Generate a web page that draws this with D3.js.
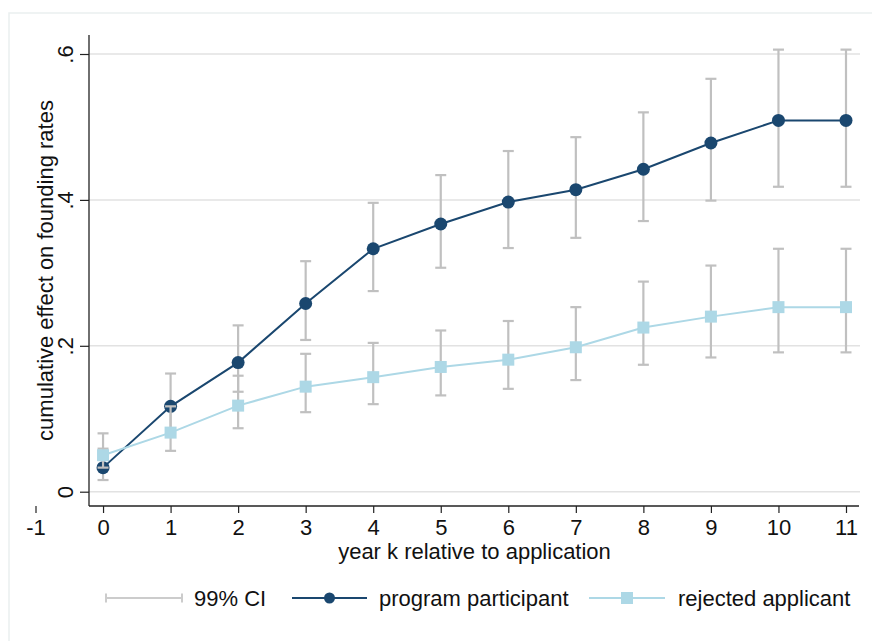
<!DOCTYPE html>
<html>
<head>
<meta charset="utf-8">
<script src="https://cdn.jsdelivr.net/npm/d3@7"></script>
<style>
  html, body { margin: 0; padding: 0; background: #fff; }
  svg { display: block; }
  text { font-family: "Liberation Sans", Arial, Helvetica, sans-serif; fill: #111; }
</style>
</head>
<body>
<svg id="chart" width="872" height="641"></svg>
<script>
// year k relative to application
const years = [0, 1, 2, 3, 4, 5, 6, 7, 8, 9, 10, 11];
const xTicks = [-1, 0, 1, 2, 3, 4, 5, 6, 7, 8, 9, 10, 11];
const yTicks = [0, 0.2, 0.4, 0.6];

// program participant: estimate and 99% CI
const partEst = [0.033, 0.117, 0.177, 0.258, 0.333, 0.367, 0.397, 0.414, 0.442, 0.478, 0.509, 0.509];
const partLo  = [0.016, 0.080, 0.137, 0.208, 0.275, 0.307, 0.334, 0.348, 0.371, 0.399, 0.418, 0.418];
const partHi  = [0.059, 0.162, 0.228, 0.316, 0.396, 0.434, 0.467, 0.486, 0.520, 0.566, 0.606, 0.606];

// rejected applicant: estimate and 99% CI
const rejEst = [0.050, 0.081, 0.118, 0.144, 0.157, 0.171, 0.181, 0.198, 0.225, 0.240, 0.253, 0.253];
const rejLo  = [0.033, 0.056, 0.087, 0.109, 0.120, 0.132, 0.141, 0.153, 0.174, 0.184, 0.191, 0.191];
const rejHi  = [0.080, 0.117, 0.159, 0.189, 0.204, 0.221, 0.234, 0.253, 0.288, 0.310, 0.333, 0.333];

const legendLabels = ["99% CI", "program participant", "rejected applicant"];

const navy = "#1a476f";
const ltblue = "#add8e6";
const ciGray = "#c0c0c0";
const gridGray = "#e2e2e2";

const svg = d3.select("#chart");
const plot = { left: 89, right: 860, top: 35, bottom: 506 };

// faint outer frame
svg.append("rect")
  .attr("x", 9).attr("y", 13).attr("width", 900).attr("height", 700)
  .attr("fill", "none").attr("stroke", "#eaefef").attr("stroke-width", 1.5);

const x = d3.scaleLinear().domain([-1, 11]).range([35.5, 846]);
const y = d3.scaleLinear().domain([0, 0.6]).range([491.7, 54]);

// gridlines
svg.append("g").selectAll("line")
  .data(yTicks).enter().append("line")
  .attr("x1", plot.left).attr("x2", plot.right)
  .attr("y1", d => y(d)).attr("y2", d => y(d))
  .attr("stroke", gridGray).attr("stroke-width", 1.5);

// axes
const yAxis = svg.append("g").attr("transform", `translate(${plot.left},0)`)
  .call(d3.axisLeft(y).tickValues(yTicks).tickSize(9)
    .tickFormat(d => d === 0 ? "0" : d3.format(".1f")(d).replace(/^0/, "")));
yAxis.select(".domain").remove();
yAxis.selectAll(".tick line").attr("stroke", "#222").attr("stroke-width", 1.2);
yAxis.selectAll(".tick text")
  .attr("transform", "rotate(-90)")
  .attr("x", 0).attr("y", -16).attr("dy", 0)
  .attr("text-anchor", "middle")
  .style("font-size", "22px").attr("fill", "#111");

const xAxis = svg.append("g").attr("transform", `translate(0,${plot.bottom})`)
  .call(d3.axisBottom(x).tickValues(xTicks).tickSize(7).tickPadding(6).tickFormat(d => String(d)));
xAxis.select(".domain").remove();
xAxis.selectAll(".tick line").attr("stroke", "#222").attr("stroke-width", 1.2);
xAxis.selectAll(".tick text").style("font-size", "22px").attr("fill", "#111");

// axis lines
svg.append("line")
  .attr("x1", plot.left).attr("x2", plot.left).attr("y1", plot.top).attr("y2", plot.bottom)
  .attr("stroke", "#222").attr("stroke-width", 1.3);
svg.append("line")
  .attr("x1", plot.left).attr("x2", plot.right - 1).attr("y1", plot.bottom).attr("y2", plot.bottom)
  .attr("stroke", "#222").attr("stroke-width", 1.3);

// axis titles
svg.append("text")
  .attr("transform", `translate(53,${(plot.top + plot.bottom) / 2}) rotate(-90)`)
  .attr("text-anchor", "middle").style("font-size", "22px")
  .text("cumulative effect on founding rates");
svg.append("text")
  .attr("x", (plot.left + plot.right) / 2).attr("y", 559)
  .attr("text-anchor", "middle").style("font-size", "22px")
  .text("year k relative to application");

function drawCI(lo, hi) {
  const g = svg.append("g").attr("stroke", ciGray).attr("stroke-width", 2.2).attr("fill", "none");
  years.forEach((k, i) => {
    const cx = x(k);
    g.append("line").attr("x1", cx).attr("x2", cx).attr("y1", y(lo[i])).attr("y2", y(hi[i]));
    g.append("line").attr("x1", cx - 5.5).attr("x2", cx + 5.5).attr("y1", y(lo[i])).attr("y2", y(lo[i]));
    g.append("line").attr("x1", cx - 5.5).attr("x2", cx + 5.5).attr("y1", y(hi[i])).attr("y2", y(hi[i]));
  });
}

const line = d3.line().x(d => x(d[0])).y(d => y(d[1]));

// program participant
drawCI(partLo, partHi);
svg.append("path")
  .datum(years.map((k, i) => [k, partEst[i]]))
  .attr("fill", "none").attr("stroke", navy).attr("stroke-width", 2).attr("d", line);
svg.append("g").selectAll("circle")
  .data(years).enter().append("circle")
  .attr("cx", d => x(d)).attr("cy", (d, i) => y(partEst[i]))
  .attr("r", 6.5).attr("fill", navy);

// rejected applicant
drawCI(rejLo, rejHi);
svg.append("path")
  .datum(years.map((k, i) => [k, rejEst[i]]))
  .attr("fill", "none").attr("stroke", ltblue).attr("stroke-width", 2).attr("d", line);
svg.append("g").selectAll("rect")
  .data(years).enter().append("rect")
  .attr("x", d => x(d) - 6).attr("y", (d, i) => y(rejEst[i]) - 6)
  .attr("width", 12).attr("height", 12).attr("fill", ltblue);

// legend
const ly = 598;
const leg = svg.append("g");
leg.append("line").attr("x1", 106).attr("x2", 182).attr("y1", ly).attr("y2", ly)
  .attr("stroke", "#cccccc").attr("stroke-width", 2);
[106, 182].forEach(cx => leg.append("line").attr("x1", cx).attr("x2", cx)
  .attr("y1", ly - 4.5).attr("y2", ly + 4.5).attr("stroke", "#cccccc").attr("stroke-width", 2));
leg.append("text").attr("x", 194).attr("y", ly + 8).style("font-size", "22px").text(legendLabels[0]);

leg.append("line").attr("x1", 292).attr("x2", 367).attr("y1", ly).attr("y2", ly)
  .attr("stroke", navy).attr("stroke-width", 2);
leg.append("circle").attr("cx", 329.5).attr("cy", ly).attr("r", 5.5).attr("fill", navy);
leg.append("text").attr("x", 379).attr("y", ly + 8).style("font-size", "22px").text(legendLabels[1]);

leg.append("line").attr("x1", 589).attr("x2", 665).attr("y1", ly).attr("y2", ly)
  .attr("stroke", ltblue).attr("stroke-width", 2);
leg.append("rect").attr("x", 627 - 6).attr("y", ly - 6).attr("width", 12).attr("height", 12).attr("fill", ltblue);
leg.append("text").attr("x", 678).attr("y", ly + 8).style("font-size", "22px").text(legendLabels[2]);
</script>
</body>
</html>
